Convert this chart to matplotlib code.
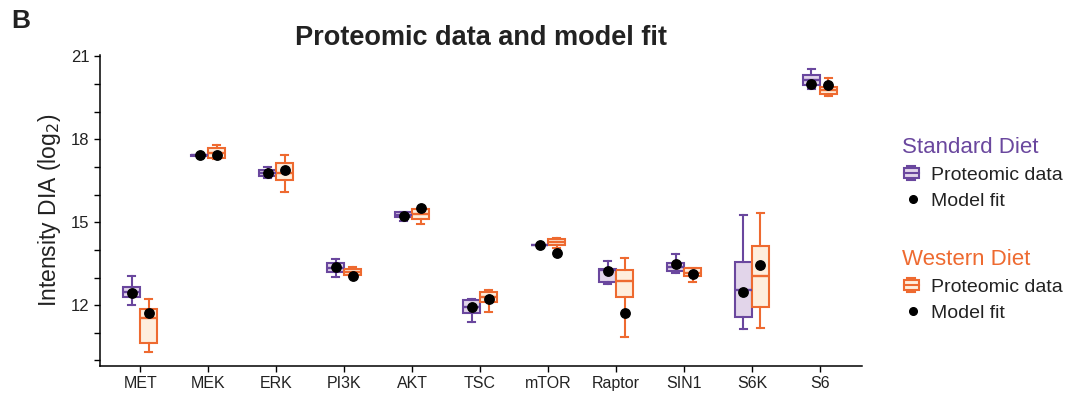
import matplotlib
matplotlib.use("Agg")
import matplotlib.pyplot as plt
from matplotlib.legend_handler import HandlerBase
from matplotlib.lines import Line2D
from matplotlib.patches import Rectangle
import numpy as np

plt.rcParams["font.family"] = ["Liberation Sans", "DejaVu Sans"]

proteins = ["MET", "MEK", "ERK", "PI3K", "AKT", "TSC", "mTOR", "Raptor", "SIN1", "S6K", "S6"]

# Standard diet: box statistics
std_whislo = [12.00, 17.41, 16.61, 13.02, 15.04, 11.40, 14.17, 12.77, 13.18, 11.15, 19.81]
std_q1 = [12.30, 17.41, 16.67, 13.19, 15.18, 11.73, 14.17, 12.83, 13.25, 11.56, 19.98]
std_med = [12.49, 17.43, 16.79, 13.36, 15.27, 11.95, 14.18, 13.27, 13.37, 12.54, 20.16]
std_q3 = [12.67, 17.45, 16.88, 13.51, 15.36, 12.19, 14.19, 13.32, 13.54, 13.55, 20.33]
std_whishi = [13.07, 17.45, 17.00, 13.68, 15.36, 12.24, 14.19, 13.61, 13.85, 15.27, 20.53]
std_fit = [12.45, 17.43, 16.78, 13.37, 15.22, 11.95, 14.18, 13.24, 13.50, 12.49, 19.99]

# Western diet
wd_whislo = [10.31, 17.30, 16.09, 13.05, 14.95, 11.76, 14.06, 10.86, 12.84, 11.18, 19.56]
wd_q1 = [10.65, 17.34, 16.52, 13.09, 15.12, 12.11, 14.19, 12.29, 13.06, 11.94, 19.65]
wd_med = [11.52, 17.51, 16.79, 13.20, 15.30, 12.31, 14.30, 12.87, 13.15, 13.04, 19.77]
wd_q3 = [11.86, 17.67, 17.15, 13.30, 15.47, 12.49, 14.40, 13.26, 13.33, 14.14, 19.89]
wd_whishi = [12.24, 17.81, 17.45, 13.39, 15.47, 12.56, 14.44, 13.72, 13.33, 15.32, 20.22]
wd_fit = [11.71, 17.43, 16.88, 13.07, 15.51, 12.21, 13.90, 11.72, 13.11, 13.44, 19.95]

purple = "#6A479E"
purple_fill = "#E2D5EA"
orange = "#EE6A30"
orange_fill = "#FEEEDD"
text_col = "#222222"


def make_stats(lo, q1, med, q3, hi):
    return [dict(whislo=a, q1=b, med=c, q3=d, whishi=e, fliers=[])
            for a, b, c, d, e in zip(lo, q1, med, q3, hi)]


fig = plt.figure(figsize=(10.79, 4.0), dpi=100)
ax = fig.add_axes([0.0927, 0.085, 0.7063, 0.7775])

x = np.arange(len(proteins))
dodge = 0.125
bw = 0.26


def draw_boxes(stats, pos, edge, fill):
    ax.bxp(stats, positions=pos, widths=bw, patch_artist=True, showfliers=False,
           boxprops=dict(facecolor=fill, edgecolor=edge, linewidth=1.5),
           medianprops=dict(color=edge, linewidth=1.7),
           whiskerprops=dict(color=edge, linewidth=1.5),
           capprops=dict(color=edge, linewidth=1.5),
           capwidths=0.1, manage_ticks=False)


draw_boxes(make_stats(std_whislo, std_q1, std_med, std_q3, std_whishi), x - dodge, purple, purple_fill)
draw_boxes(make_stats(wd_whislo, wd_q1, wd_med, wd_q3, wd_whishi), x + dodge, orange, orange_fill)
ax.scatter(x - dodge, std_fit, s=46, color="black", zorder=5)
ax.scatter(x + dodge, wd_fit, s=46, color="black", zorder=5)

ax.set_xlim(-0.59, 10.62)
ax.set_ylim(9.8, 21.05)
ax.set_xticks(x)
ax.set_xticklabels(proteins, fontsize=11.5, color=text_col)
ax.set_yticks([12, 15, 18, 21])
ax.set_yticks(np.arange(10, 22), minor=True)
ax.tick_params(axis="y", labelsize=12, labelcolor=text_col)
ax.tick_params(which="both", direction="out", length=4, width=1, color="black")
for s in ["top", "right"]:
    ax.spines[s].set_visible(False)
for s in ["left", "bottom"]:
    ax.spines[s].set_linewidth(1.1)
ax.set_ylabel("Intensity DIA (log$_2$)", fontsize=16.5, labelpad=6, color=text_col)

ax.set_title("Proteomic data and model fit", fontsize=19.5, fontweight="bold", pad=7, color=text_col)
fig.text(0.010, 0.978, "B", fontsize=19, fontweight="bold", va="top", color=text_col)


class BoxHandler(HandlerBase):
    def __init__(self, edge, fill):
        super().__init__()
        self.edge = edge
        self.fill = fill

    def create_artists(self, legend, orig_handle, xdescent, ydescent, width, height, fontsize, trans):
        cx = width * 0.4 - xdescent
        w = height * 1.1
        h = height * 0.72
        y0 = -ydescent + (height - h) / 2
        rect = Rectangle((cx - w / 2, y0), w, h, facecolor=self.fill, edgecolor=self.edge,
                         linewidth=1.5, transform=trans)
        med = Line2D([cx - w / 2, cx + w / 2], [y0 + h / 2] * 2, color=self.edge, lw=1.5, transform=trans)
        top = Line2D([cx - w / 4, cx + w / 4], [y0 + h + 1.5] * 2, color=self.edge, lw=1.5, transform=trans)
        bot = Line2D([cx - w / 4, cx + w / 4], [y0 - 1.5] * 2, color=self.edge, lw=1.5, transform=trans)
        return [rect, med, top, bot]


def add_legend(title, edge, fill, y):
    box_h = Rectangle((0, 0), 1, 1)
    dot_h = Line2D([], [], marker="o", color="black", linestyle="none", markersize=5.5)
    leg = fig.legend([box_h, dot_h], ["Proteomic data", "Model fit"], title=title,
                     handler_map={box_h: BoxHandler(edge, fill)},
                     loc="upper left", bbox_to_anchor=(0.829, y), frameon=False,
                     fontsize=14, title_fontsize=16, alignment="left",
                     handlelength=1.15, handletextpad=0.35, labelspacing=0.45, borderaxespad=0)
    leg.get_title().set_color(edge)
    for t in leg.get_texts():
        t.set_color(text_col)
    return leg


add_legend("Standard Diet", purple, purple_fill, 0.678)
add_legend("Western Diet", orange, orange_fill, 0.398)

fig.savefig("out.png", dpi=100)
